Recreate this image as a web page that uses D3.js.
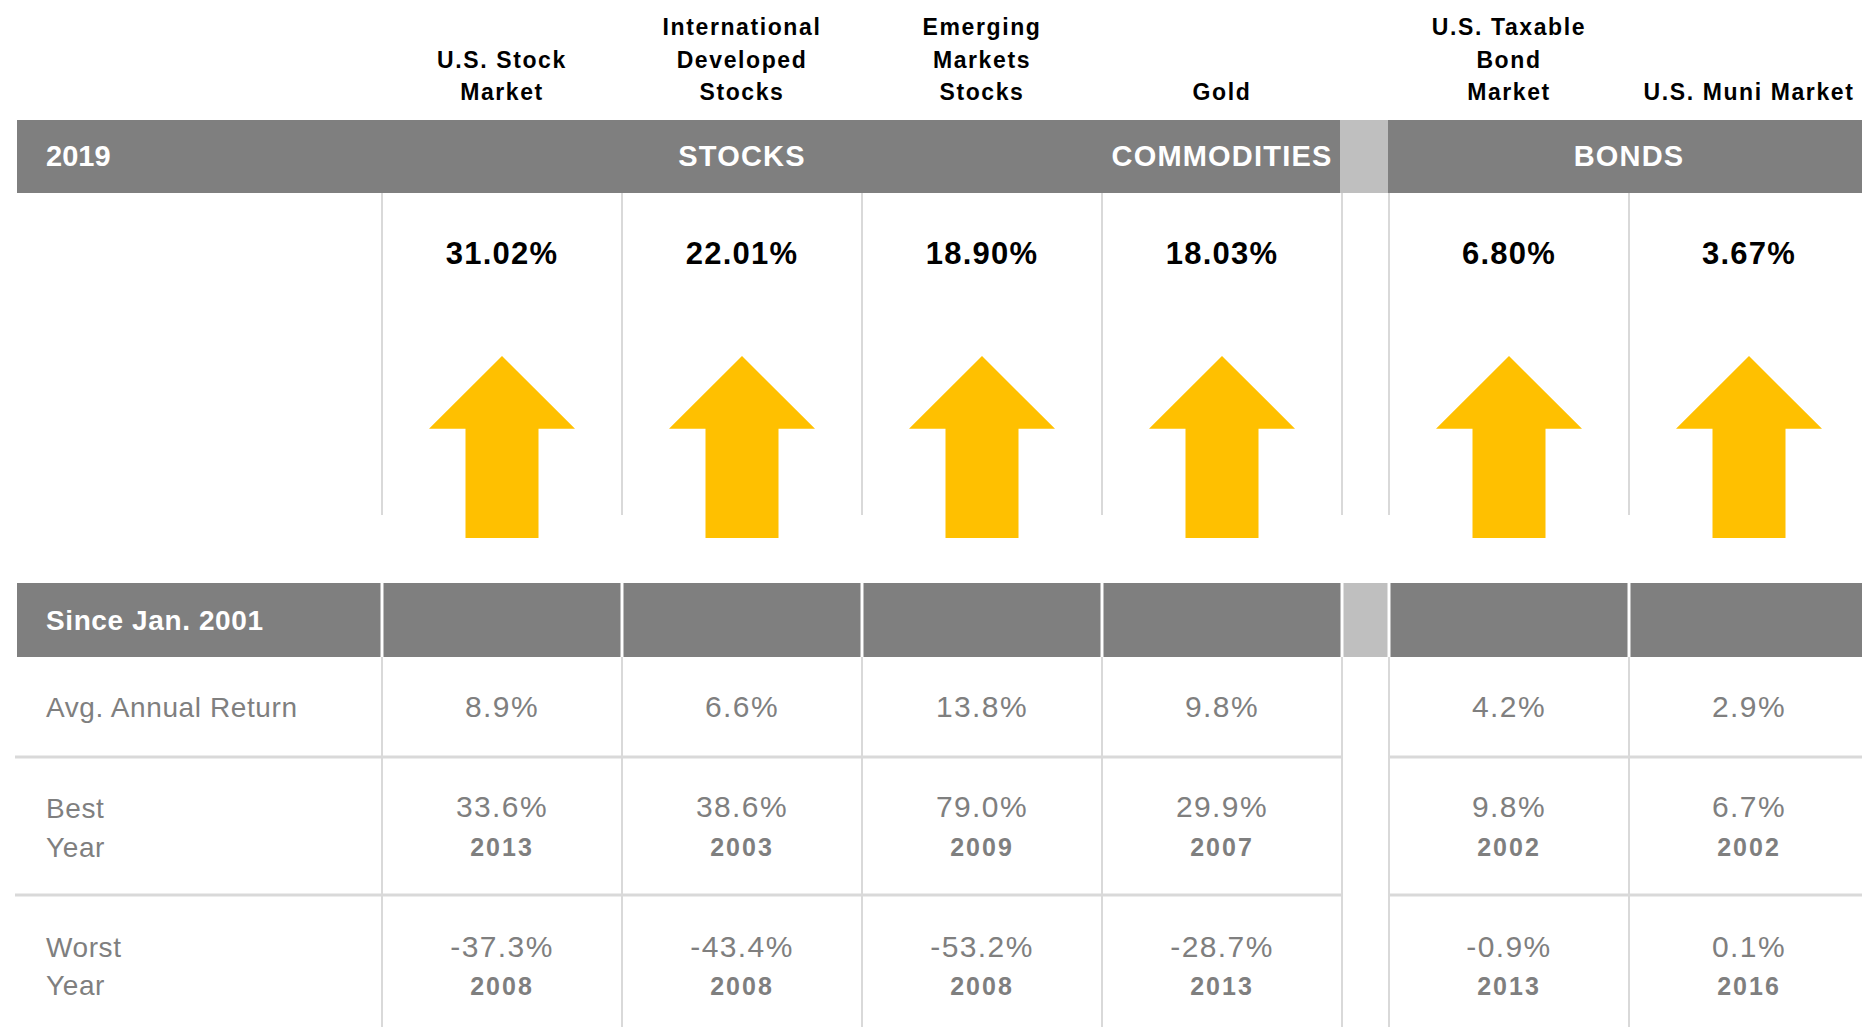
<!DOCTYPE html>
<html>
<head>
<meta charset="utf-8">
<script src="https://cdn.jsdelivr.net/npm/d3@7"></script>
<style>
  body { margin: 0; background: #fff; }
  text { font-family: "Liberation Sans", Arial, sans-serif; }
</style>
</head>
<body>
<div id="chart"></div>
<script>
// column headers (one entry per line) and their group
var assetLabels = [
    ["U.S. Stock", "Market"],
    ["International", "Developed", "Stocks"],
    ["Emerging", "Markets", "Stocks"],
    ["Gold"],
    ["U.S. Taxable", "Bond", "Market"],
    ["U.S. Muni Market"]
];
var assetGroups = ["STOCKS", "STOCKS", "STOCKS", "COMMODITIES", "BONDS", "BONDS"];
var groupNames = ["STOCKS", "COMMODITIES", "BONDS"];

// 2019 returns (%)
var return2019 = [31.02, 22.01, 18.90, 18.03, 6.80, 3.67];

// since Jan. 2001
var avgReturn = [8.9, 6.6, 13.8, 9.8, 4.2, 2.9];
var bestReturn = [33.6, 38.6, 79.0, 29.9, 9.8, 6.7];
var bestYear = [2013, 2003, 2009, 2007, 2002, 2002];
var worstReturn = [-37.3, -43.4, -53.2, -28.7, -0.9, 0.1];
var worstYear = [2008, 2008, 2008, 2013, 2013, 2016];

var bandTitle = "2019";
var sinceTitle = "Since Jan. 2001";
var rowLabels = [["Avg. Annual Return"], ["Best", "Year"], ["Worst", "Year"]];

// layout
var width = 1862, height = 1027;
var leftEdge = 17;
var colWidth = 240, gapWidth = 47;
var gapUnits = gapWidth / colWidth;
var grey = "#7f7f7f", lightGrey = "#bfbfbf", lineGrey = "#d9d9d9", gold = "#ffc000";

var svg = d3.select("#chart")
    .append("svg")
    .attr("width", width)
    .attr("height", height)
    .style("display", "block");

// x in column units -> pixels; bond columns sit after the narrow gap
var xScale = d3.scaleLinear().domain([0, 1]).range([382, 382 + colWidth]);
var bondStart = assetGroups.indexOf("BONDS");
function colLeft(i) { return xScale(i + (i >= bondStart ? gapUnits : 0)); }
function colRight(i) { return colLeft(i) + colWidth; }
function colCenter(i) { return colLeft(i) + colWidth / 2; }
var gapLeft = colRight(bondStart - 1), gapRight = colLeft(bondStart);

// vertical layout
var yTop = d3.scaleLinear().domain([0, 1]).range([120, 193]); // 2019 band
var bandLow = [583, 657]; // "Since" band
var rowEdges = [657, 757, 895, height];

// arrow y scale: value 0 at shaft bottom, 1 at tip
var yArrow = d3.scaleLinear().domain([0, 1]).range([538, 356]);

var idx = d3.range(assetLabels.length);

// ---------- column headers ----------
var headerG = svg.append("g");
idx.forEach(function(i) {
    var lines = assetLabels[i];
    headerG.selectAll(null)
        .data(lines)
        .enter()
        .append("text")
        .attr("x", colCenter(i))
        .attr("y", function(d, j) { return 100 - (lines.length - 1 - j) * 32.5; })
        .attr("text-anchor", "middle")
        .style("font-size", "23px")
        .style("font-weight", "bold")
        .style("letter-spacing", "1.6px")
        .style("fill", "#000")
        .text(function(d) { return d; });
});

// ---------- 2019 band ----------
svg.append("rect")
    .attr("x", leftEdge).attr("y", yTop(0))
    .attr("width", width - leftEdge).attr("height", yTop(1) - yTop(0))
    .style("fill", grey);
svg.append("rect")
    .attr("x", gapLeft - 2).attr("y", yTop(0))
    .attr("width", gapRight - gapLeft + 1).attr("height", yTop(1) - yTop(0))
    .style("fill", lightGrey);

svg.append("text")
    .attr("x", 46).attr("y", 166)
    .style("font-size", "29px").style("font-weight", "bold")
    .style("fill", "#fff")
    .text(bandTitle);

svg.selectAll(".grp")
    .data(groupNames)
    .enter()
    .append("text")
    .attr("class", "grp")
    .attr("x", function(g) {
        var cols = idx.filter(function(i) { return assetGroups[i] === g; });
        return (colLeft(cols[0]) + colRight(cols[cols.length - 1])) / 2;
    })
    .attr("y", 166)
    .attr("text-anchor", "middle")
    .style("font-size", "29px").style("font-weight", "bold")
    .style("letter-spacing", "1.2px")
    .style("fill", "#fff")
    .text(function(d) { return d; });

// upper divider lines
var edges = idx.map(colLeft).concat([gapLeft]);
edges = edges.filter(function(v, k) { return edges.indexOf(v) === k; });
svg.selectAll(".vUp")
    .data(edges)
    .enter()
    .append("line")
    .attr("x1", function(d) { return d; }).attr("x2", function(d) { return d; })
    .attr("y1", yTop(1)).attr("y2", 515)
    .style("stroke", lineGrey).style("stroke-width", 2);

// 2019 values
svg.selectAll(".v2019")
    .data(return2019)
    .enter()
    .append("text")
    .attr("x", function(d, i) { return colCenter(i); })
    .attr("y", 264)
    .attr("text-anchor", "middle")
    .style("font-size", "31px").style("font-weight", "bold")
    .style("letter-spacing", "1.2px")
    .style("fill", "#000")
    .text(function(d) { return d.toFixed(2) + "%"; });

// arrows (all up, 2019 returns positive)
var headW = 73, shaftW = 36.5;
svg.selectAll(".arrow")
    .data(return2019)
    .enter()
    .append("path")
    .attr("d", function(d, i) {
        var cx = colCenter(i);
        var p = d3.path();
        p.moveTo(cx, yArrow(1));
        p.lineTo(cx + headW, yArrow(0.6));
        p.lineTo(cx + shaftW, yArrow(0.6));
        p.lineTo(cx + shaftW, yArrow(0));
        p.lineTo(cx - shaftW, yArrow(0));
        p.lineTo(cx - shaftW, yArrow(0.6));
        p.lineTo(cx - headW, yArrow(0.6));
        p.closePath();
        return p.toString();
    })
    .style("fill", gold);

// ---------- since Jan. 2001 table ----------
svg.append("rect")
    .attr("x", leftEdge).attr("y", bandLow[0])
    .attr("width", width - leftEdge).attr("height", bandLow[1] - bandLow[0])
    .style("fill", grey);
svg.append("rect")
    .attr("x", gapLeft).attr("y", bandLow[0])
    .attr("width", gapRight - gapLeft).attr("height", bandLow[1] - bandLow[0])
    .style("fill", lightGrey);
svg.append("text")
    .attr("x", 46).attr("y", 630)
    .style("font-size", "28px").style("font-weight", "bold")
    .style("letter-spacing", "0.6px")
    .style("fill", "#fff")
    .text(sinceTitle);

// white separators inside band
svg.selectAll(".vBand")
    .data(edges)
    .enter()
    .append("line")
    .attr("x1", function(d) { return d; }).attr("x2", function(d) { return d; })
    .attr("y1", bandLow[0]).attr("y2", bandLow[1])
    .style("stroke", "#fff").style("stroke-width", 3);

// grey lines under band
svg.selectAll(".vLow")
    .data(edges)
    .enter()
    .append("line")
    .attr("x1", function(d) { return d; }).attr("x2", function(d) { return d; })
    .attr("y1", bandLow[1]).attr("y2", height)
    .style("stroke", lineGrey).style("stroke-width", 2);

// horizontal row rules (skip the gap column)
[rowEdges[1], rowEdges[2]].forEach(function(y) {
    svg.append("line")
        .attr("x1", 15).attr("x2", gapLeft)
        .attr("y1", y).attr("y2", y)
        .style("stroke", lineGrey).style("stroke-width", 3);
    svg.append("line")
        .attr("x1", gapRight).attr("x2", width)
        .attr("y1", y).attr("y2", y)
        .style("stroke", lineGrey).style("stroke-width", 3);
});

// row labels
var labelBase = [[717], [818, 857], [957, 995]];
rowLabels.forEach(function(lines, r) {
    svg.selectAll(null)
        .data(lines)
        .enter()
        .append("text")
        .attr("x", 46)
        .attr("y", function(d, j) { return labelBase[r][j]; })
        .style("font-size", "28px")
        .style("letter-spacing", "0.6px")
        .style("fill", grey)
        .text(function(d) { return d; });
});

function pct(v) { return v.toFixed(1) + "%"; }

function valueRow(values, y) {
    svg.append("g").selectAll("text")
        .data(values)
        .enter()
        .append("text")
        .attr("x", function(d, i) { return colCenter(i); })
        .attr("y", y)
        .attr("text-anchor", "middle")
        .style("font-size", "30px")
        .style("letter-spacing", "1.4px")
        .style("fill", grey)
        .text(pct);
}
function yearRow(values, y) {
    svg.append("g").selectAll("text")
        .data(values)
        .enter()
        .append("text")
        .attr("x", function(d, i) { return colCenter(i); })
        .attr("y", y)
        .attr("text-anchor", "middle")
        .style("font-size", "25px")
        .style("font-weight", "bold")
        .style("letter-spacing", "2px")
        .style("fill", grey)
        .text(function(d) { return d; });
}

valueRow(avgReturn, 717);
valueRow(bestReturn, 817);
yearRow(bestYear, 856);
valueRow(worstReturn, 957);
yearRow(worstYear, 995);
</script>
</body>
</html>
